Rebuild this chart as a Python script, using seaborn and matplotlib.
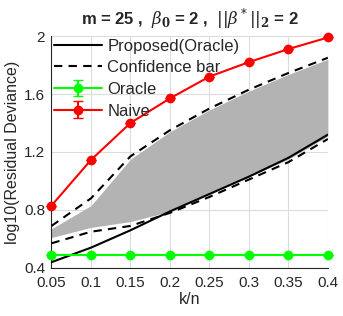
import matplotlib
matplotlib.use("Agg")
import matplotlib.pyplot as plt
import seaborn as sns
import numpy as np
import pandas as pd

# data
k_n = [0.05, 0.10, 0.15, 0.20, 0.25, 0.30, 0.35, 0.40]
proposed = [0.44, 0.54, 0.66, 0.79, 0.91, 1.03, 1.16, 1.32]
conf_upper = [0.69, 0.88, 1.17, 1.35, 1.50, 1.63, 1.745, 1.85]
conf_lower = [0.57, 0.65, 0.69, 0.78, 0.89, 1.01, 1.13, 1.29]
band_upper = [0.67, 0.83, 1.15, 1.34, 1.49, 1.62, 1.735, 1.84]
band_lower = [0.61, 0.68, 0.72, 0.79, 0.91, 1.03, 1.15, 1.31]
oracle = [0.49, 0.49, 0.49, 0.49, 0.49, 0.49, 0.49, 0.49]
naive = [0.83, 1.145, 1.40, 1.57, 1.72, 1.82, 1.91, 1.99]
xticks = [0.05, 0.1, 0.15, 0.2, 0.25, 0.3, 0.35, 0.4]
xticklabels = ["0.05", "0.1", "0.15", "0.2", "0.25", "0.3", "0.35", "0.4"]
yticks = [0.4, 0.8, 1.2, 1.6, 2.0]
yticklabels = ["0.4", "0.8", "1.2", "1.6", "2"]

sns.set_style("whitegrid")
plt.rcParams["font.family"] = ["Liberation Sans", "DejaVu Sans"]
plt.rcParams["mathtext.fontset"] = "dejavuserif"

df = pd.DataFrame({"k_n": k_n, "proposed": proposed,
                   "conf_upper": conf_upper, "conf_lower": conf_lower})

fig = plt.figure(figsize=(3.43, 3.16), dpi=100)
ax = fig.add_axes([0.15, 0.152, 0.806, 0.734])

ax.fill_between(k_n, band_lower, band_upper, color="#b3b3b3", linewidth=0, zorder=1)

sns.lineplot(data=df, x="k_n", y="proposed", color="black", linewidth=1.5,
             ax=ax, label="Proposed(Oracle)", zorder=3)
sns.lineplot(data=df, x="k_n", y="conf_upper", color="black", linewidth=1.5,
             linestyle=(0, (4, 3)), ax=ax, label="Confidence bar", zorder=3)
sns.lineplot(data=df, x="k_n", y="conf_lower", color="black", linewidth=1.5,
             linestyle=(0, (4, 3)), ax=ax, zorder=3)

zeros = np.zeros(len(k_n))
for vals, col, lab in [(oracle, "#00ff00", "Oracle"), (naive, "#ff0000", "Naive")]:
    cont = ax.errorbar(k_n, vals, yerr=zeros, color=col, marker="o", markersize=6,
                       linewidth=1.5, capsize=3.5, elinewidth=1.5, label=lab, zorder=4)
    cont[0].set_clip_on(False)
    for c in cont[1]:
        c.set_clip_on(False)

ax.set_xlim(0.05, 0.4)
ax.set_ylim(0.4, 2.0)
ax.set_xticks(xticks)
ax.set_xticklabels(xticklabels)
ax.set_yticks(yticks)
ax.set_yticklabels(yticklabels)
ax.tick_params(labelsize=11, direction="in", length=3, color="#262626",
               colors="#262626")
ax.tick_params(axis="y", pad=4.5)
ax.tick_params(axis="x", pad=6)
ax.grid(True, color="#dcdcdc", linewidth=0.8)
for side in ["top", "right"]:
    ax.spines[side].set_visible(False)
for side in ["left", "bottom"]:
    ax.spines[side].set_color("#262626")
    ax.spines[side].set_linewidth(0.8)

ax.set_xlabel("k/n", fontsize=11.5, color="#262626", labelpad=1)
ax.set_ylabel("log10(Residual Deviance)", fontsize=11.5, color="#262626", labelpad=3)
ax.set_title(r"m = 25 ,  $\beta_\mathbf{0}$ = 2 ,  $||\beta^*||_\mathbf{2}$ = 2",
             fontsize=12, fontweight="bold", pad=8)

handles, labels = ax.get_legend_handles_labels()
leg = ax.legend(handles, labels, loc="upper left", frameon=False, fontsize=12,
                handlelength=2.9, handletextpad=0.3, labelspacing=0.4,
                borderaxespad=0.0, borderpad=0.15)

fig.savefig("out.png", dpi=100)
